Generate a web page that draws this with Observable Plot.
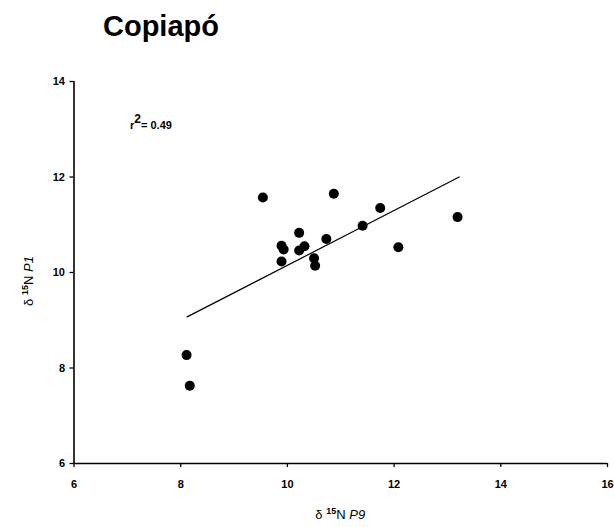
<!DOCTYPE html>
<html>
<head>
<meta charset="utf-8">
<script src="https://cdn.jsdelivr.net/npm/d3@7"></script>
<script src="https://cdn.jsdelivr.net/npm/@observablehq/plot@0.6"></script>
<style>
  body { margin: 0; background: white; }
  #wrap { position: relative; width: 614px; height: 527px; }
  #title { position: absolute; left: 103px; top: 12px; font: bold 29px/29px "Liberation Sans", Arial, sans-serif; color: black; }
</style>
</head>
<body>
<div id="wrap"><div id="title"></div></div>
<script>
const titleText = "Copiapó";
const xLabelParts = ["δ ", "15", "N ", "P9"];
const yLabelParts = ["δ ", "15", "N ", "P1"];

// δ15N P9 (x) and δ15N P1 (y)
const p9 = [9.54, 10.87, 11.74, 13.19, 11.41, 10.22, 10.73, 9.89, 9.93, 10.32, 10.22, 12.08, 9.89, 10.50, 10.52, 8.11, 8.17];
const p1 = [11.57, 11.65, 11.35, 11.16, 10.98, 10.83, 10.70, 10.56, 10.48, 10.55, 10.46, 10.53, 10.23, 10.30, 10.14, 8.27, 7.63];

// fitted regression line endpoints, as drawn
const fitX = [8.12, 13.22];
const fitY = [9.07, 12.00];

const xTicks = [6, 8, 10, 12, 14, 16];
const yTicks = [6, 8, 10, 12, 14];

// r² annotation: position in data units and text parts
const annotX = 7.06;
const annotY = 12.99;
const annotParts = ["r", "2", "= 0.49"];

const points = p9.map((x, i) => ({x, y: p1[i]}));
const fit = fitX.map((x, i) => ({x, y: fitY[i]}));

document.getElementById("title").textContent = titleText;

const plot = Plot.plot({
  width: 614,
  height: 527,
  marginLeft: 73.5,
  marginRight: 7,
  marginTop: 81,
  marginBottom: 64,
  style: {fontFamily: "'Liberation Sans', Arial, sans-serif", fontSize: "11px", fontWeight: "bold", color: "black", background: "white"},
  x: {domain: [6, 16]},
  y: {domain: [6, 14]},
  marks: [
    Plot.axisX({ticks: xTicks, tickSize: 4, tickPadding: 13, label: null, stroke: "black", strokeWidth: 1.3, fill: "black"}),
    Plot.axisY({ticks: yTicks, tickSize: 4, tickPadding: 5, label: null, stroke: "black", strokeWidth: 1.3, fill: "black"}),
    Plot.ruleX([6], {stroke: "black", strokeWidth: 1.6}),
    Plot.ruleY([6], {stroke: "black", strokeWidth: 1.6}),
    Plot.line(fit, {x: "x", y: "y", stroke: "black", strokeWidth: 1.2}),
    Plot.dot(points, {x: "x", y: "y", r: 5, fill: "black", stroke: "none"})
  ]
});

document.getElementById("wrap").appendChild(plot);

const svg = d3.select(plot);
const sx = plot.scale("x");
const sy = plot.scale("y");
const xr = sx.range;
const yr = sy.range;
const FONT = "'Liberation Sans', Arial, sans-serif";

// r² annotation
const a = svg.append("text")
  .attr("x", sx.apply(annotX))
  .attr("y", sy.apply(annotY))
  .attr("text-anchor", "start")
  .attr("font-family", FONT)
  .attr("font-size", 11)
  .attr("font-weight", "bold")
  .attr("fill", "black");
a.append("tspan").text(annotParts[0]);
a.append("tspan").attr("font-size", 12).attr("dy", -6).text(annotParts[1]);
a.append("tspan").attr("dy", 6).text(annotParts[2]);

function addLabel(parts, transform) {
  const t = svg.append("text")
    .attr("transform", transform)
    .attr("text-anchor", "middle")
    .attr("font-family", FONT)
    .attr("font-size", 13)
    .attr("font-weight", "normal")
    .attr("fill", "black");
  t.append("tspan").text(parts[0]);
  t.append("tspan").attr("font-size", 9).attr("font-weight", "bold").attr("dy", -5).text(parts[1]);
  t.append("tspan").attr("dy", 5).text(parts[2]);
  t.append("tspan").attr("font-style", "italic").text(parts[3]);
}
addLabel(xLabelParts, `translate(${(xr[0] + xr[1]) / 2},${yr[0] + 56})`);
addLabel(yLabelParts, `translate(${xr[0] - 41},${(yr[0] + yr[1]) / 2 + 9}) rotate(-90)`);
</script>
</body>
</html>
